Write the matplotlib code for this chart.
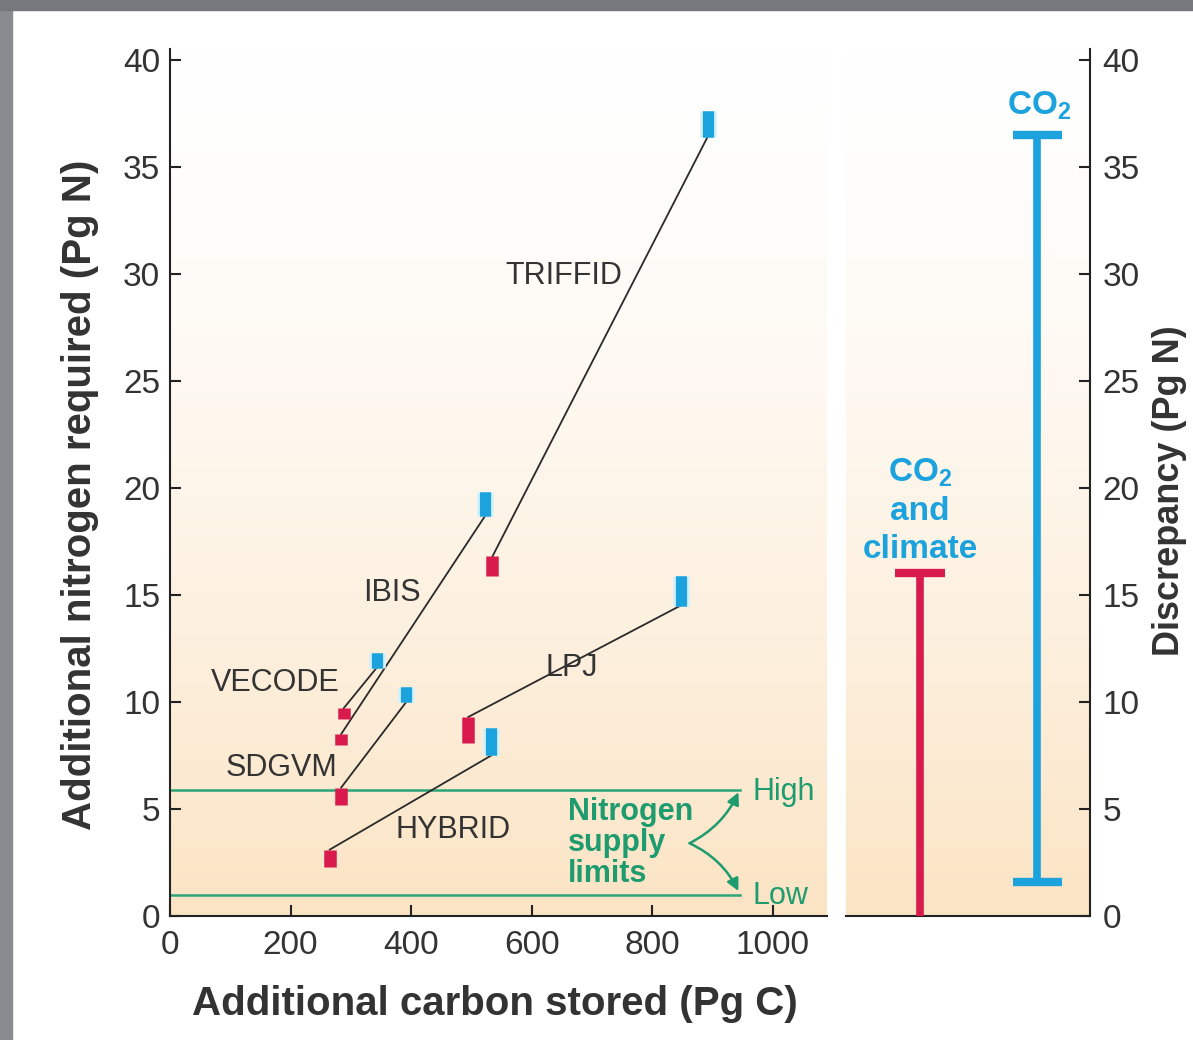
import numpy as np
import matplotlib
matplotlib.use("Agg")
import matplotlib.pyplot as plt
from matplotlib.patches import Rectangle
import matplotlib.patheffects as pe

plt.rcParams['font.family'] = ['Liberation Sans', 'DejaVu Sans']
plt.rcParams['mathtext.default'] = 'regular'

# model results: red = CO2 and climate, blue = CO2 only
models = ["TRIFFID", "IBIS", "VECODE", "SDGVM", "LPJ", "HYBRID"]
red_x = [535, 284, 288, 284, 495, 265]
red_lo = [15.9, 8.0, 9.2, 5.2, 8.1, 2.3]
red_hi = [16.8, 8.5, 9.7, 6.0, 9.3, 3.1]
blue_x = [892, 523, 343, 392, 847, 533]
blue_lo = [36.4, 18.7, 11.6, 10.0, 14.5, 7.5]
blue_hi = [37.6, 19.8, 12.3, 10.7, 15.9, 8.8]

supply_high = 5.9
supply_low = 1.0

# discrepancy panel
scen = ["CO$_2$\nand\nclimate", "CO$_2$"]
disc_lo = [0.0, 1.6]
disc_hi = [16.0, 36.5]

RED = "#d81a4d"
BLUE = "#1ca3dd"
GREEN = "#1e9b6f"
TXT = "#333333"

fig = plt.figure(figsize=(11.93, 10.4), dpi=100)
fig.patch.set_facecolor("white")
fig.patches.append(Rectangle((0, 0), 12 / 1193, 1, transform=fig.transFigure,
                             color="#8a8a91", zorder=-5))
fig.patches.append(Rectangle((0, 1 - 10 / 1040), 1, 10 / 1040, transform=fig.transFigure,
                             color="#77777e", zorder=-5))

ax = fig.add_axes([170 / 1193, 124 / 1040, 657 / 1193, 867 / 1040])
ax2 = fig.add_axes([846 / 1193, 124 / 1040, 244 / 1193, 867 / 1040])

# background gradient white -> peach
ys = np.linspace(40.5, 0, 256)
t = np.clip(1 - ys / 40.5, 0, 1) ** 1.5
top = np.array([1.0, 1.0, 1.0])
bot = np.array([251, 228, 196]) / 255
grad = (top[None, :] * (1 - t[:, None]) + bot[None, :] * t[:, None])[:, None, :]

ax.set_xlim(0, 1090)
ax.set_ylim(0, 40.5)
ax.imshow(grad, extent=[0, 1090, 0, 40.5], aspect="auto", zorder=0)

ax2.set_xlim(-0.63, 1.45)
ax2.set_ylim(0, 40.5)
ax2.imshow(grad, extent=[-0.63, 1.45, 0, 40.5], aspect="auto", zorder=0)

# supply limits
ax.plot([0, 945], [supply_high, supply_high], color="#2ba578", lw=1.8, zorder=2)
ax.plot([0, 945], [supply_low, supply_low], color="#2ba578", lw=1.8, zorder=2)

# connecting lines
for i in range(len(models)):
    ax.plot([red_x[i], blue_x[i]], [red_hi[i], blue_lo[i]], color="#2a2a2a", lw=1.3, zorder=3)

ax.vlines(red_x, red_lo, red_hi, color=RED, lw=9, zorder=4, capstyle="butt")
blues = ax.vlines(blue_x, blue_lo, blue_hi, color=BLUE, lw=8, zorder=4, capstyle="butt")
blues.set_path_effects([pe.withStroke(linewidth=12, foreground="#d5f0fb"), pe.Normal()])

label_pos = {"TRIFFID": (654, 29.9), "IBIS": (368, 15.1), "VECODE": (175, 10.9),
             "SDGVM": (185, 6.9), "LPJ": (666, 11.6), "HYBRID": (469, 4.0)}
for m in models:
    x, y = label_pos[m]
    ax.text(x, y, m, fontsize=22, color=TXT, ha="center", va="center", zorder=5)

ax.text(660, 3.4, "Nitrogen\nsupply\nlimits", color=GREEN, fontsize=22, fontweight="bold",
        ha="left", va="center", linespacing=1.05, zorder=5)
ax.text(966, 5.8, "High", color=GREEN, fontsize=22, ha="left", va="center")
ax.text(966, 0.95, "Low", color=GREEN, fontsize=22, ha="left", va="center")
ax.annotate("", xy=(945, 5.9), xytext=(862, 3.4),
            arrowprops=dict(arrowstyle="-|>", color=GREEN, lw=1.8, mutation_scale=18,
                            shrinkA=0, connectionstyle="arc3,rad=0.18"))
ax.annotate("", xy=(945, 1.05), xytext=(862, 3.4),
            arrowprops=dict(arrowstyle="-|>", color=GREEN, lw=1.8, mutation_scale=18,
                            shrinkA=0, connectionstyle="arc3,rad=-0.18"))

for s in ["top", "right"]:
    ax.spines[s].set_visible(False)
for s in ["left", "bottom"]:
    ax.spines[s].set_color("#222222")
    ax.spines[s].set_linewidth(1.5)
ax.set_xticks(np.arange(0, 1001, 200))
ax.set_yticks(np.arange(0, 41, 5))
ax.tick_params(direction="in", length=8, width=1.5, labelsize=24, labelcolor=TXT, color="#222222")
ax.tick_params(axis="y", pad=7)
ax.tick_params(axis="x", pad=10)
ax.set_xlabel("Additional carbon stored (Pg C)", fontsize=29, fontweight="bold", color=TXT)
ax.set_ylabel("Additional nitrogen required (Pg N)", fontsize=29, fontweight="bold", color=TXT)
ax.xaxis.set_label_coords(0.495, -0.080)
ax.yaxis.set_label_coords(-0.108, 0.486)

# discrepancy bars
cols = [RED, BLUE]
for i in range(2):
    ax2.plot([i, i], [disc_lo[i], disc_hi[i]], color=cols[i], lw=5.5, solid_capstyle="butt", zorder=3)
    ax2.plot([i - 0.21, i + 0.21], [disc_hi[i], disc_hi[i]], color=cols[i], lw=6, solid_capstyle="butt", zorder=3)
    if disc_lo[i] > 0:
        ax2.plot([i - 0.21, i + 0.21], [disc_lo[i], disc_lo[i]], color=cols[i], lw=6, solid_capstyle="butt", zorder=3)
ax2.text(0, 16.4, scen[0], color=BLUE, fontsize=24, fontweight="bold", ha="center", va="bottom",
         linespacing=1.3)
ax2.text(1.02, 37.1, scen[1], color=BLUE, fontsize=24, fontweight="bold", ha="center", va="bottom")

for s in ["top", "left"]:
    ax2.spines[s].set_visible(False)
for s in ["right", "bottom"]:
    ax2.spines[s].set_color("#222222")
    ax2.spines[s].set_linewidth(1.5)
ax2.set_xticks([])
ax2.yaxis.tick_right()
ax2.set_yticks(np.arange(0, 41, 5))
ax2.tick_params(direction="in", length=8, width=1.5, labelsize=24, labelcolor=TXT, color="#222222", pad=9)
ax2.yaxis.set_label_position("right")
ax2.set_ylabel("Discrepancy (Pg N)", fontsize=26, fontweight="bold", color=TXT, rotation=90)
ax2.yaxis.set_label_coords(1.255, 0.49)

fig.savefig("out.png", dpi=100)
